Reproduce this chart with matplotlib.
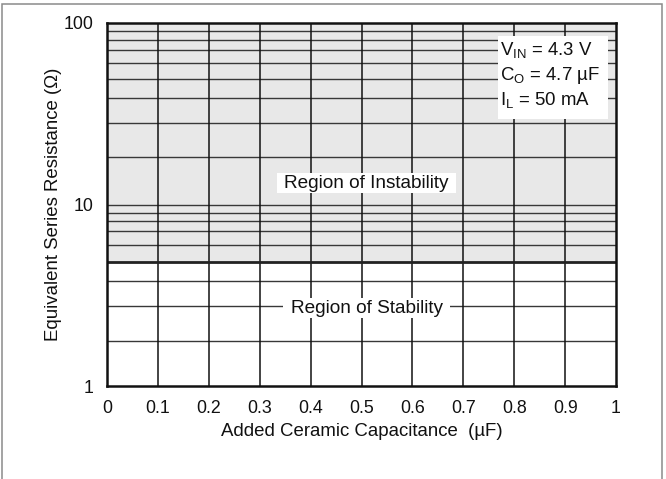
import matplotlib
matplotlib.use("Agg")
import matplotlib.pyplot as plt
from matplotlib.patches import Rectangle
from matplotlib.ticker import FixedLocator, NullLocator

# ---- data ----
x_ticks = [0, 0.1, 0.2, 0.3, 0.4, 0.5, 0.6, 0.7, 0.8, 0.9, 1]
x_tick_labels = ["0", "0.1", "0.2", "0.3", "0.4", "0.5", "0.6", "0.7", "0.8", "0.9", "1"]
y_ticks = [1, 10, 100]
y_tick_labels = ["1", "10", "100"]
y_grid_values = [1.78, 2.77, 3.8, 6.0, 7.15, 8.1, 8.98,
                 18.3, 28.1, 38.6, 49.1, 60.5, 71.2, 80.8, 90.1]
esr_boundary = 4.84          # boundary between stable / unstable regions (Ohm)
esr_max = 100
x_range = [0, 1]
cond_lines = [r"V$_\mathregular{IN}$ = 4.3 V",
              r"C$_\mathregular{O}$ = 4.7 µF",
              r"I$_\mathregular{L}$ = 50 mA"]

plt.rcParams['font.family'] = ['Liberation Sans', 'DejaVu Sans']
plt.rcParams['mathtext.fontset'] = 'custom'
plt.rcParams['mathtext.rm'] = 'Liberation Sans'
plt.rcParams['mathtext.it'] = 'Liberation Sans:italic'
plt.rcParams['mathtext.bf'] = 'Liberation Sans:bold'

fig = plt.figure(figsize=(6.66, 4.79), dpi=100)
ax = fig.add_axes([0.1607, 0.1935, 0.925 - 0.1607, 0.952 - 0.1935])

ax.set_yscale('log')
ax.set_xlim(x_range)
ax.set_ylim(y_ticks[0], y_ticks[-1])

# shaded instability region
ax.axhspan(esr_boundary, esr_max, facecolor='#e8e8e8', edgecolor='none', zorder=0)

# grid
for v in y_grid_values:
    ax.axhline(v, color='#383838', lw=1.0, zorder=1)
ax.axhline(10, color='#383838', lw=1.0, zorder=1)
for v in x_ticks[1:-1]:
    ax.axvline(v, color='#111111', lw=1.1, zorder=1)
ax.axhline(esr_boundary, color='#222222', lw=2.0, zorder=2)

ax.xaxis.set_major_locator(FixedLocator(x_ticks))
ax.set_xticklabels(x_tick_labels)
ax.yaxis.set_major_locator(FixedLocator(y_ticks))
ax.set_yticklabels(y_tick_labels)
ax.yaxis.set_minor_locator(NullLocator())
ax.tick_params(axis='both', which='both', length=0, labelsize=12.8, colors='#111111')
ax.tick_params(axis='y', pad=10)
ax.tick_params(axis='x', pad=9.5)

for s in ax.spines.values():
    s.set_linewidth(1.8)
    s.set_color('#111111')
    s.set_zorder(6)

ax.set_xlabel("Added Ceramic Capacitance  (µF)", fontsize=13.4, color='#111111')
ax.xaxis.set_label_coords(0.5, -0.101)
ax.set_ylabel("Equivalent Series Resistance (Ω)", fontsize=13.4, color='#111111', va='center')
ax.yaxis.set_label_coords(-0.106, 0.5)

# region labels with white boxes
ax.add_patch(Rectangle((0.334, 0.532), 0.352, 0.055, transform=ax.transAxes,
                       facecolor='white', edgecolor='none', zorder=3))
ax.text(0.51, 0.559, "Region of Instability", transform=ax.transAxes, ha='center',
        va='center', fontsize=13.7, color='#111111', zorder=4)
ax.add_patch(Rectangle((0.346, 0.188), 0.328, 0.055, transform=ax.transAxes,
                       facecolor='white', edgecolor='none', zorder=3))
ax.text(0.51, 0.2155, "Region of Stability", transform=ax.transAxes, ha='center',
        va='center', fontsize=13.7, color='#111111', zorder=4)

# condition box
ax.add_patch(Rectangle((0.768, 0.736), 0.216, 0.228, transform=ax.transAxes,
                       facecolor='white', edgecolor='none', zorder=3))
for i, line in enumerate(cond_lines):
    ax.text(0.772, 0.912 - i * 0.069, line, transform=ax.transAxes, ha='left',
            va='baseline', fontsize=13.4, color='#111111', zorder=4)

# figure border
fig.add_artist(Rectangle((1.5 / 666, -0.05), (662 - 1.5) / 666, 1 - 4 / 479 + 0.05,
                         transform=fig.transFigure, facecolor='none',
                         edgecolor='#8a8a8a', lw=1.1))

fig.savefig("out.png", dpi=100)
